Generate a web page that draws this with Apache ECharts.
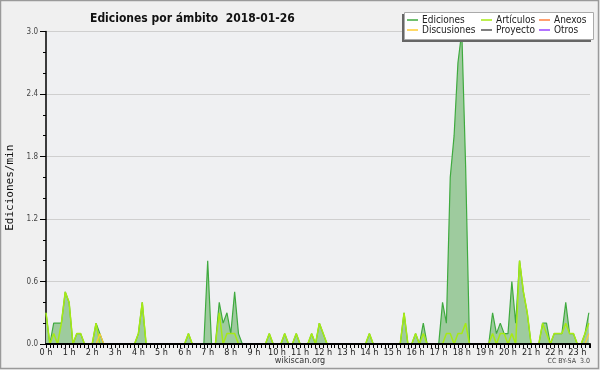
<!DOCTYPE html>
<html>
<head>
<meta charset="utf-8">
<script src="https://cdn.jsdelivr.net/npm/echarts@6/dist/echarts.min.js"></script>
<style>
html,body{margin:0;padding:0;background:#f0f0f0;}
#chart{width:600px;height:370px;}
</style>
</head>
<body>
<div id="chart"></div>
<script>
// 10-minute slots (index 0 = 00:00, 6 slots per hour), values in edits/min
const hourLabels = ['0 h','1 h','2 h','3 h','4 h','5 h','6 h','7 h','8 h','9 h','10 h','11 h',
  '12 h','13 h','14 h','15 h','16 h','17 h','18 h','19 h','20 h','21 h','22 h','23 h'];
const yTicks = [0, 0.6, 1.2, 1.8, 2.4, 3.0];

const ediciones = [
  0.3,0,0.2,0.2,0.2,0.5, 0.4,0,0.1,0.1,0,0,
  0,0.2,0.1,0,0,0, 0,0,0,0,0,0,
  0.1,0.4,0,0,0,0, 0,0,0,0,0,0,
  0,0.1,0,0,0,0, 0.8,0,0,0.4,0.2,0.3,
  0.1,0.5,0.1,0,0,0, 0,0,0,0,0.1,0,
  0,0,0.1,0,0,0.1, 0,0,0,0.1,0,0.2,
  0.1,0,0,0,0,0, 0,0,0,0,0,0,
  0.1,0,0,0,0,0, 0,0,0,0.3,0,0,
  0.1,0,0.2,0,0,0, 0,0.4,0.2,1.6,2.0,2.7,
  3.0,1.7,0,0,0,0, 0,0,0.3,0.1,0.2,0.1,
  0.1,0.6,0.2,0.8,0.5,0.3, 0,0,0,0.2,0.2,0,
  0.1,0.1,0.1,0.4,0.1,0.1, 0,0,0.1,0.3
];
const articulos = [
  0.3,0,0.1,0,0.2,0.5, 0.4,0,0.1,0.1,0,0,
  0,0.2,0,0,0,0, 0,0,0,0,0,0,
  0.1,0.4,0,0,0,0, 0,0,0,0,0,0,
  0,0.1,0,0,0,0, 0,0,0,0.3,0,0.1,
  0.1,0.1,0,0,0,0, 0,0,0,0,0.1,0,
  0,0,0.1,0,0,0.1, 0,0,0,0.1,0,0.2,
  0.1,0,0,0,0,0, 0,0,0,0,0,0,
  0.1,0,0,0,0,0, 0,0,0,0.3,0,0,
  0.1,0,0.1,0,0,0, 0,0,0.1,0.1,0,0.1,
  0.1,0.2,0,0,0,0, 0,0,0.1,0,0.1,0.1,
  0,0.1,0,0.8,0.5,0.3, 0,0,0,0.2,0.1,0,
  0.1,0.1,0.1,0.2,0.1,0.1, 0,0,0.1,0.2
];
const discusiones = [
  0,0,0,0,0,0, 0,0,0,0,0,0,
  0,0,0.1,0,0,0, 0,0,0,0,0,0,
  0,0,0,0,0,0, 0,0,0,0,0,0,
  0,0,0,0,0,0, 0,0,0,0,0,0,
  0,0,0,0,0,0, 0,0,0,0,0,0,
  0,0,0,0,0,0, 0,0,0,0,0,0,
  0,0,0,0,0,0, 0,0,0,0,0,0,
  0,0,0,0,0,0, 0,0,0,0,0,0,
  0,0,0,0,0,0, 0,0,0,0,0,0,
  0,0,0,0,0,0, 0,0,0,0,0,0,
  0,0,0,0,0,0, 0,0,0,0,0,0,
  0,0,0,0,0,0, 0,0,0,0.1
];
// no visible activity for these
const proyecto = [];
const anexos = [];
const otros = [];

const FONT = "'DejaVu Sans Condensed','DejaVu Sans',sans-serif";
const toPairs = arr => arr.map((v, i) => [i, v]);

const chart = echarts.init(document.getElementById('chart'), null, {renderer: 'canvas'});

function lineSeries(name, data, color, width, z, area) {
  const s = {
    name: name, type: 'line', data: toPairs(data), symbol: 'none',
    color: color, z: z, animation: false,
    lineStyle: {color: color, width: width},
    itemStyle: {color: color}
  };
  if (area) s.areaStyle = {color: '#9ecb9e', opacity: 1};
  return s;
}

const legendCommon = {
  orient: 'vertical', itemGap: 0, itemWidth: 11, itemHeight: 1.5, icon: 'rect',
  padding: 0, selectedMode: false, z: 10,
  textStyle: {fontSize: 10, fontFamily: FONT, color: '#222', lineHeight: 10, padding: [0,0,0,-1]}
};

chart.setOption({
  backgroundColor: '#f0f0f0',
  animation: false,
  title: {
    text: 'Ediciones por ámbito  2018-01-26',
    left: 85, top: 8,
    textStyle: {fontFamily: FONT, fontWeight: 'bold', fontSize: 12, color: '#111'}
  },
  legend: [
    Object.assign({}, legendCommon, {data: ['Ediciones', 'Discusiones'], left: 407, top: 15}),
    Object.assign({}, legendCommon, {data: ['Artículos', 'Proyecto'], left: 481, top: 15}),
    Object.assign({}, legendCommon, {data: ['Anexos', 'Otros'], left: 539, top: 15})
  ],
  grid: {
    left: 46, right: 10, top: 31.5, bottom: 26,
    containLabel: false, outerBoundsMode: 'none',
    show: true, backgroundColor: '#eff0f2', borderWidth: 0
  },
  xAxis: {
    type: 'value', min: 0, max: 141.3, interval: 6, z: 5,
    axisLine: {show: true, lineStyle: {color: '#000', width: 2}},
    axisTick: {show: true, length: 4, lineStyle: {color: '#000', width: 1}},
    minorTick: {show: true, splitNumber: 6, length: 4, lineStyle: {color: '#000', width: 1}},
    splitLine: {show: false},
    axisLabel: {
      margin: 4, fontSize: 9, fontFamily: FONT, color: '#222',
      showMaxLabel: false,
      formatter: v => (v % 6 === 0 ? hourLabels[v / 6] : '')
    }
  },
  yAxis: {
    type: 'value', min: yTicks[0], max: yTicks[yTicks.length - 1], interval: 0.6,
    name: 'Ediciones/min', nameLocation: 'middle', nameGap: 28,
    nameTextStyle: {fontFamily: "'DejaVu Sans Mono',monospace", fontSize: 11, color: '#111'},
    axisLine: {show: true, lineStyle: {color: '#000', width: 1.5}},
    axisTick: {show: true, length: 6, lineStyle: {color: '#000'}},
    minorTick: {show: true, splitNumber: 3, length: 3, lineStyle: {color: '#000'}},
    splitLine: {show: true, lineStyle: {color: '#cfcfcf', width: 1}},
    axisLabel: {margin: 8, fontSize: 8, fontFamily: FONT, color: '#444', formatter: v => v.toFixed(1)}
  },
  graphic: [
    {type: 'rect', z: 0, silent: true, shape: {x: 0.5, y: 0.5, width: 598, height: 368},
     style: {fill: 'none', stroke: '#9a9a9a', lineWidth: 1.5}},
    {type: 'rect', z: 3, silent: true, shape: {x: 402, y: 14, width: 189, height: 28},
     style: {fill: '#666'}},
    {type: 'rect', z: 3, silent: true, shape: {x: 404.5, y: 12.5, width: 189, height: 27},
     style: {fill: '#ffffff', stroke: '#aaaaaa', lineWidth: 1}},
    {type: 'text', z: 3, silent: true, left: 'center', top: 356,
     style: {text: 'wikiscan.org', font: "9px " + FONT, fill: '#333'}},
    {type: 'text', z: 3, silent: true, right: 10, top: 358,
     style: {text: 'CC BY-SA  3.0', font: "7px " + FONT, fill: '#444'}}
  ],
  series: [
    lineSeries('Ediciones', ediciones, '#3faa3f', 1.2, 2, true),
    lineSeries('Artículos', articulos, '#a6ea14', 1.5, 2.1, false),
    lineSeries('Discusiones', discusiones, '#ffcc33', 1.2, 2.2, false),
    lineSeries('Proyecto', proyecto, '#555555', 1.2, 2.3, false),
    lineSeries('Anexos', anexos, '#ff7f3f', 1.2, 2.4, false),
    lineSeries('Otros', otros, '#9944ff', 1.2, 2.5, false)
  ]
});
</script>
</body>
</html>
